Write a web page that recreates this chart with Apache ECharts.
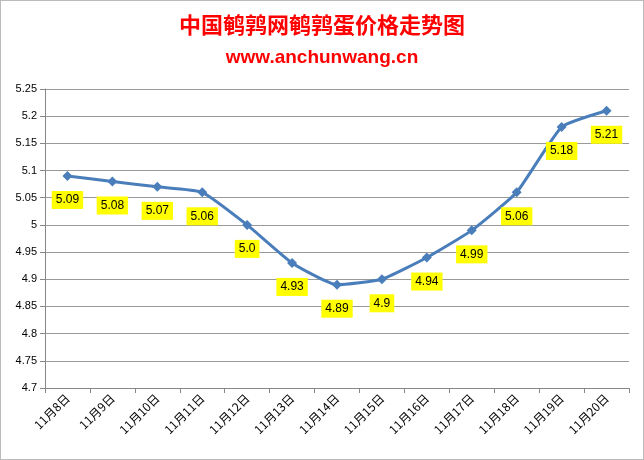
<!DOCTYPE html><html><head><meta charset="utf-8"><script src="https://cdn.jsdelivr.net/npm/echarts@6/dist/echarts.min.js"></script>
<style>html,body{margin:0;padding:0;background:#fff}#c{width:644px;height:460px;box-sizing:border-box;border:1px solid #bbb}</style></head><body><div id="c"></div><script>
const categories=["11月8日","11月9日","11月10日","11月11日","11月12日","11月13日","11月14日","11月15日","11月16日","11月17日","11月18日","11月19日","11月20日"];
const prices=[5.09,5.08,5.07,5.06,5.0,4.93,4.89,4.9,4.94,4.99,5.06,5.18,5.21];
const labelTexts=["5.09","5.08","5.07","5.06","5.0","4.93","4.89","4.9","4.94","4.99","5.06","5.18","5.21"];
const chart=echarts.init(document.getElementById('c'));
chart.setOption({
 animation:false,
 title:[{text:"中国鹌鹑网鹌鹑蛋价格走势图",left:'center',top:8,textStyle:{color:'#ff0000',fontSize:22,fontWeight:'bold',fontFamily:'Noto Sans CJK SC'}},
 {text:"www.anchunwang.cn",left:'center',top:42,textStyle:{color:'#ff0000',fontSize:19,fontWeight:'bold',fontFamily:'Liberation Sans'}}],
 grid:{left:44,right:14,top:88,bottom:71,containLabel:false},
 xAxis:{type:'category',data:categories,boundaryGap:true,axisLine:{lineStyle:{color:'#888'}},axisTick:{show:true,lineStyle:{color:'#888'}},
  axisLabel:{rotate:45,interval:0,color:'#000',fontSize:12,fontFamily:'Noto Sans CJK SC',margin:8}},
 yAxis:{type:'value',min:4.7,max:5.25,interval:0.05,axisLine:{show:true,lineStyle:{color:'#888'}},axisTick:{show:true,lineStyle:{color:'#888'}},
  splitLine:{lineStyle:{color:'#999'}},axisLabel:{color:'#000',fontSize:11,fontFamily:'Liberation Sans',formatter:v=>String(+v.toFixed(2))}},
 series:[{type:'line',data:prices,smooth:0.15,symbol:'diamond',symbolSize:10,itemStyle:{color:'#4a7ebb'},lineStyle:{color:'#4a7ebb',width:3},
  label:{show:true,position:'bottom',distance:10,formatter:p=>labelTexts[p.dataIndex],backgroundColor:'#ffff00',padding:[3,4],color:'#000',fontSize:12,fontFamily:'Liberation Sans'}}]
});
</script></body></html>
